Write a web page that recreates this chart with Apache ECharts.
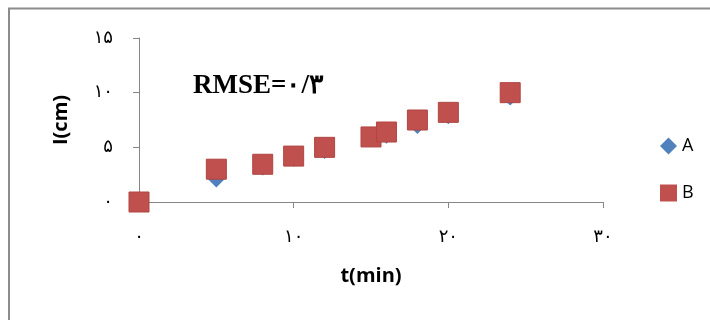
<!DOCTYPE html>
<html>
<head>
<meta charset="utf-8">
<script src="https://cdn.jsdelivr.net/npm/echarts@6/dist/echarts.min.js"></script>
<style>
  html, body { margin: 0; padding: 0; background: #ffffff; }
  #chart { width: 710px; height: 320px; }
</style>
</head>
<body>
<div id="chart"></div>
<script>
// time (min) for every measurement
const tValues = [0, 5, 8, 10, 12, 15, 16, 18, 20, 24];
// l (cm) for the two series
const seriesA = [0, 2.1, 3.2, 4.0, 4.7, 5.9, 6.1, 7.0, 7.9, 9.6];
const seriesB = [0, 3.0, 3.45, 4.2, 5.0, 5.95, 6.4, 7.5, 8.2, 10.0];
// tick labels (Persian digits) keyed by value
const xTicks = [0, 10, 20, 30];
const xTickLabels = ['۰', '۱۰', '۲۰', '۳۰'];
const yTicks = [0, 5, 10, 15];
const yTickLabels = ['۰', '۵', '۱۰', '۱۵'];
const seriesNames = ['A', 'B'];
const annotation = 'RMSE=۰/۳';

const axisGray = '#868686';
const digitFont = 'DejaVu Sans';
const colorA = '#4f81bd';
const colorB = '#c0504d';

function tickLabel(ticks, labels) {
  return v => {
    const i = ticks.indexOf(v);
    return i >= 0 ? labels[i] : '';
  };
}

const chart = echarts.init(document.getElementById('chart'), null, {renderer: 'canvas'});

const option = {
  backgroundColor: '#ffffff',
  animation: false,
  grid: {left: 139, right: 107, top: 38, bottom: 118},
  legend: {
    orient: 'vertical',
    left: 655,
    top: 132,
    itemGap: 29,
    itemWidth: 17,
    itemHeight: 17,
    textStyle: {fontFamily: 'Open Sans', fontSize: 18, color: '#000'},
    data: [
      {name: seriesNames[0], icon: 'diamond', itemStyle: {color: colorA, borderWidth: 0}},
      {name: seriesNames[1], icon: 'rect', itemStyle: {color: colorB, borderWidth: 0}}
    ]
  },
  xAxis: {
    type: 'value',
    min: 0,
    max: 30,
    interval: 10,
    name: 't(min)',
    nameLocation: 'middle',
    nameGap: 64,
    nameTextStyle: {fontFamily: 'Open Sans', fontWeight: 'bold', fontSize: 20, color: '#000'},
    splitLine: {show: false},
    axisLine: {onZero: false, lineStyle: {color: axisGray, width: 1}},
    axisTick: {show: true, inside: false, length: 6, lineStyle: {color: axisGray}},
    axisLabel: {
      margin: 26,
      fontFamily: digitFont,
      fontSize: 18,
      color: '#000',
      formatter: tickLabel(xTicks, xTickLabels)
    }
  },
  yAxis: {
    type: 'value',
    min: 0,
    max: 15,
    interval: 5,
    name: 'I(cm)',
    nameLocation: 'middle',
    nameGap: 68,
    nameTextStyle: {fontFamily: 'Open Sans', fontWeight: 'bold', fontSize: 20, color: '#000'},
    splitLine: {show: false},
    axisLine: {show: true, lineStyle: {color: axisGray, width: 1}},
    axisTick: {show: true, inside: false, length: 6, lineStyle: {color: axisGray}},
    axisLabel: {
      margin: 26,
      fontFamily: digitFont,
      fontSize: 18,
      color: '#000',
      formatter: tickLabel(yTicks, yTickLabels)
    }
  },
  graphic: [
    {
      type: 'rect',
      silent: true,
      z: -10,
      shape: {x: 9, y: 8.5, width: 720, height: 330},
      style: {fill: 'none', stroke: '#8c8c8c', lineWidth: 2}
    },
    {
      type: 'text',
      left: 193,
      top: 73,
      style: {
        text: annotation,
        font: 'bold 27px "Liberation Serif", "DejaVu Serif", serif',
        fill: '#000'
      }
    }
  ],
  series: [
    {
      name: seriesNames[0],
      type: 'scatter',
      symbol: 'diamond',
      symbolSize: 17,
      itemStyle: {color: colorA, opacity: 1},
      data: tValues.map((t, i) => [t, seriesA[i]])
    },
    {
      name: seriesNames[1],
      type: 'scatter',
      symbol: 'rect',
      symbolSize: 20,
      itemStyle: {color: colorB, opacity: 1, borderColor: '#b04542', borderWidth: 1},
      data: tValues.map((t, i) => [t, seriesB[i]])
    }
  ]
};

chart.setOption(option);
</script>
</body>
</html>
